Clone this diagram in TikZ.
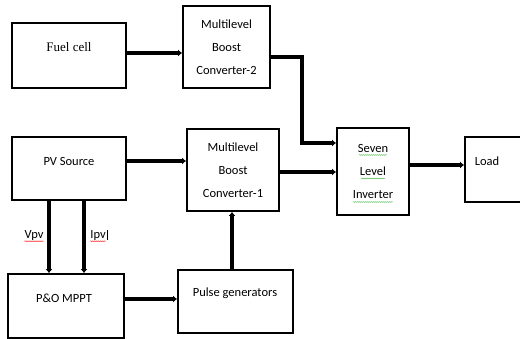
\documentclass[tikz,border=0pt]{standalone}
\usepackage{fontspec}
\setmainfont{Carlito}
\newfontfamily\serifface{Liberation Serif}
\usetikzlibrary{arrows.meta,decorations.pathmorphing}
\begin{document}
\begin{tikzpicture}[x=1pt,y=-1pt,
  box/.style={draw,line width=1.8pt,inner sep=0pt},
  txt/.style={font=\fontsize{12.5}{23}\selectfont,align=center,inner sep=0pt},
  arr/.style={line width=4pt,-{Latex[length=4pt,width=7pt]}},
  squig/.style={line width=0.5pt,decorate,decoration={snake,amplitude=0.4pt,segment length=2pt}}]
\useasboundingbox (0,0) rectangle (520,339);
% boxes
\node[box,minimum width=114pt,minimum height=65pt] (fuel) at (69,55.5) {};
\node[box,minimum width=87pt,minimum height=82pt,txt] (mbc2) at (226.5,47) {Multilevel\\Boost\\Converter-2};
\node[box,minimum width=114pt,minimum height=63pt] (pv) at (69,168.5) {};
\node[box,minimum width=92pt,minimum height=82pt,txt] (mbc1) at (233,170) {Multilevel\\Boost\\Converter-1};
\node[box,minimum width=72pt,minimum height=87pt,txt] (inv) at (373,171.5) {Seven\\Level\\Inverter};
\node[box,minimum width=56pt,minimum height=65pt] (load) at (493,169.5) {};
\node[box,minimum width=116pt,minimum height=64pt] (mppt) at (66,306) {};
\node[box,minimum width=115pt,minimum height=63pt] (pulse) at (235.5,301.5) {};
% texts
\node[inner sep=0pt,font=\serifface\fontsize{13}{15}\selectfont] (fuelt) at (69,47) {Fuel cell};
\node[txt] (pvt) at (69,161) {PV Source};
\node[txt] (loadt) at (487,161) {Load};
\node[txt] (mpptt) at (64,298) {P\&O MPPT};
\node[txt] (pulset) at (235,293) {Pulse generators};
\node[txt] (vpv) at (34,235) {Vpv};
\node[txt] (ipv) at (98,235) {Ipv};
% spell-check underlines
\draw[squig,red!80] ([yshift=-1pt]vpv.south west) -- ([yshift=-1pt]vpv.south east);
\draw[squig,red!80] ([yshift=-1pt]ipv.south west) -- ([yshift=-1pt]ipv.south east);
\draw[line width=0.4pt] ([xshift=1pt]ipv.south east) -- ([xshift=1pt]ipv.north east);
\coordinate (g1) at (373,155); \coordinate (g2) at (373,178.5); \coordinate (g3) at (373,202);
\draw[squig,green!60!black!70] ([xshift=-14pt]g1) -- ([xshift=14pt]g1);
\draw[squig,green!60!black!70] ([xshift=-12pt]g2) -- ([xshift=12pt]g2);
\draw[squig,green!60!black!70] ([xshift=-20pt]g3) -- ([xshift=20pt]g3);
% connectors
\draw[arr] ([yshift=2.5pt]fuel.east) -- ([yshift=2.5pt]fuel.east -| mbc2.west);
\draw[arr] ([yshift=-10pt]mbc2.east) -- ++(31,0) |- ([yshift=28.5pt]inv.west);
\draw[arr] ([yshift=-2pt]mbc1.east) -- ([yshift=-2pt]mbc1.east -| inv.west);
\draw[arr] ([yshift=6.5pt]inv.east) -- ([yshift=6.5pt]inv.east -| load.west);
\draw[arr] ([yshift=7.5pt]pv.east) -- ([yshift=7.5pt]pv.east -| mbc1.west);
\draw[arr,line width=3.5pt] ([xshift=-20pt]pv.south) -- ([xshift=-20pt]pv.south |- mppt.north);
\draw[arr,line width=3.5pt] ([xshift=15pt]pv.south) -- ([xshift=15pt]pv.south |- mppt.north);
\draw[arr] ([yshift=7pt]mppt.east) -- ([yshift=7pt]mppt.east -| pulse.west);
\draw[arr,line width=3.5pt] ([xshift=-3.5pt]pulse.north) -- ([xshift=-3.5pt]pulse.north |- mbc1.south);
\end{tikzpicture}
\end{document}
